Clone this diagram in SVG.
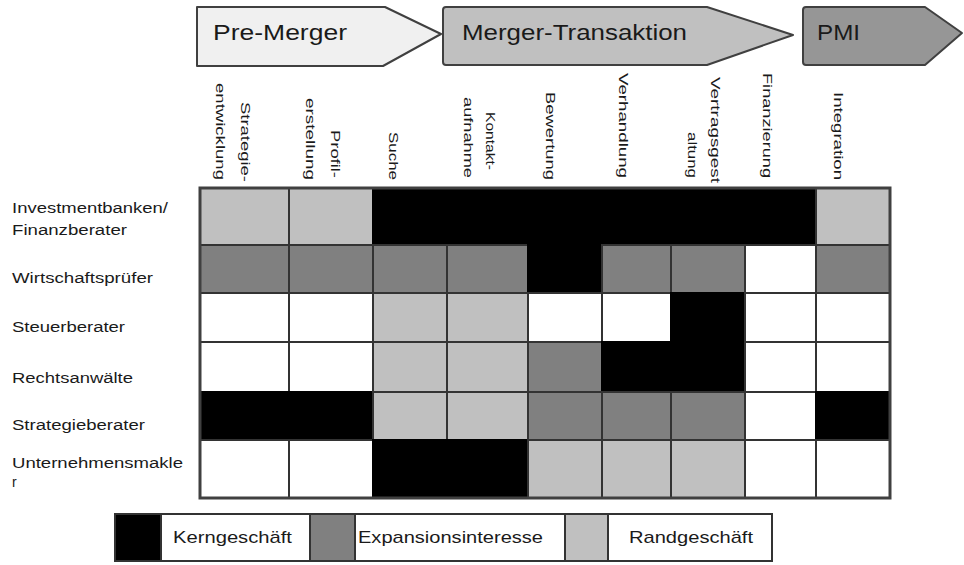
<svg xmlns="http://www.w3.org/2000/svg" width="964" height="565" viewBox="0 0 964 565">
<style>
  .hdr { stroke:#404040; stroke-width:2; stroke-linejoin:round; }
  .ht { font-family:"Liberation Sans", Arial, sans-serif; font-size:22px; fill:#1a1a1a; }
  .cl { font-family:"Liberation Sans", Arial, sans-serif; font-size:13px; fill:#1a1a1a; text-anchor:end; }
  .rl { font-family:"Liberation Sans", Arial, sans-serif; font-size:14px; fill:#1a1a1a; }
  .lt { font-family:"Liberation Sans", Arial, sans-serif; font-size:17px; fill:#1a1a1a; }
  .c { stroke:#333; stroke-width:2; }
  .L { fill:#c0c0c0; }
  .D { fill:#808080; }
  .B { fill:#000; stroke:#000; }
  .W { fill:#fff; }
</style>
<rect width="964" height="565" fill="#fff"/>

<!-- Phase arrows -->
<g id="phase-pre-merger">
  <path class="hdr" fill="#f0f0f0" d="M197,7 H385 L441,34 L383,66 H197 Z"/>
  <text class="ht" x="213" y="40" textLength="134" lengthAdjust="spacingAndGlyphs">Pre-Merger</text>
</g>
<g id="phase-merger-transaktion">
  <path class="hdr" fill="#c0c0c0" d="M446,7 H707 L793,35 L707,65 H446 Q443,65 443,62 V10 Q443,7 446,7 Z"/>
  <text class="ht" x="462" y="40" textLength="225" lengthAdjust="spacingAndGlyphs">Merger-Transaktion</text>
</g>
<g id="phase-pmi">
  <path class="hdr" fill="#969696" d="M806,7 H925 L962,33 L925,65 H806 Q803,65 803,62 V10 Q803,7 806,7 Z"/>
  <text class="ht" x="817" y="40" textLength="43" lengthAdjust="spacingAndGlyphs">PMI</text>
</g>

<!-- Column labels -->
<g id="column-labels">
  <text class="cl" transform="translate(241,182) rotate(90)" textLength="80" lengthAdjust="spacingAndGlyphs">Strategie-</text>
  <text class="cl" transform="translate(216,180) rotate(90)" textLength="97" lengthAdjust="spacingAndGlyphs">entwicklung</text>
  <text class="cl" transform="translate(331,178) rotate(90)" textLength="48" lengthAdjust="spacingAndGlyphs">Profil-</text>
  <text class="cl" transform="translate(306,180) rotate(90)" textLength="82" lengthAdjust="spacingAndGlyphs">erstellung</text>
  <text class="cl" transform="translate(389,180) rotate(90)" textLength="48" lengthAdjust="spacingAndGlyphs">Suche</text>
  <text class="cl" transform="translate(486,170) rotate(90)" textLength="58" lengthAdjust="spacingAndGlyphs">Kontakt-</text>
  <text class="cl" transform="translate(464,178) rotate(90)" textLength="81" lengthAdjust="spacingAndGlyphs">aufnahme</text>
  <text class="cl" transform="translate(546,180) rotate(90)" textLength="88" lengthAdjust="spacingAndGlyphs">Bewertung</text>
  <text class="cl" transform="translate(619,178) rotate(90)" textLength="105" lengthAdjust="spacingAndGlyphs">Verhandlung</text>
  <text class="cl" transform="translate(711,183) rotate(90)" textLength="106" lengthAdjust="spacingAndGlyphs">Vertragsgest</text>
  <text class="cl" transform="translate(688,178) rotate(90)" textLength="46" lengthAdjust="spacingAndGlyphs">altung</text>
  <text class="cl" transform="translate(763,178) rotate(90)" textLength="105" lengthAdjust="spacingAndGlyphs">Finanzierung</text>
  <text class="cl" transform="translate(834,180) rotate(90)" textLength="88" lengthAdjust="spacingAndGlyphs">Integration</text>
</g>

<!-- Row labels -->
<g id="row-investmentbanken">
  <text class="rl" x="12" y="213" textLength="156" lengthAdjust="spacingAndGlyphs">Investmentbanken/</text>
  <text class="rl" x="12" y="235" textLength="115" lengthAdjust="spacingAndGlyphs">Finanzberater</text>
</g>
<g id="row-wirtschaftspruefer">
  <text class="rl" x="12" y="283" textLength="141" lengthAdjust="spacingAndGlyphs">Wirtschaftsprüfer</text>
</g>
<g id="row-steuerberater">
  <text class="rl" x="12" y="332" textLength="113" lengthAdjust="spacingAndGlyphs">Steuerberater</text>
</g>
<g id="row-rechtsanwaelte">
  <text class="rl" x="12" y="383" textLength="121" lengthAdjust="spacingAndGlyphs">Rechtsanwälte</text>
</g>
<g id="row-strategieberater">
  <text class="rl" x="12" y="430" textLength="133" lengthAdjust="spacingAndGlyphs">Strategieberater</text>
</g>
<g id="row-unternehmensmakler">
  <text class="rl" x="12" y="468" textLength="171" lengthAdjust="spacingAndGlyphs">Unternehmensmakle</text>
  <text class="rl" x="12" y="487">r</text>
</g>

<!-- Matrix cells -->
<g id="matrix">
  <!-- row 1 -->
  <rect class="c L" x="200" y="188" width="89" height="57"/>
  <rect class="c L" x="289" y="188" width="84" height="57"/>
  <rect class="c B" x="373" y="188" width="443" height="57"/>
  <rect class="c L" x="816" y="188" width="74" height="57"/>
  <!-- row 2 -->
  <rect class="c D" x="200" y="245" width="89" height="48"/>
  <rect class="c D" x="289" y="245" width="84" height="48"/>
  <rect class="c D" x="373" y="245" width="74" height="48"/>
  <rect class="c D" x="447" y="245" width="81" height="48"/>
  <rect class="c B" x="528" y="245" width="74" height="48"/>
  <rect class="c D" x="602" y="245" width="69" height="48"/>
  <rect class="c D" x="671" y="245" width="74" height="48"/>
  <rect class="c W" x="745" y="245" width="71" height="48"/>
  <rect class="c D" x="816" y="245" width="74" height="48"/>
  <!-- row 3 -->
  <rect class="c W" x="200" y="293" width="89" height="49"/>
  <rect class="c W" x="289" y="293" width="84" height="49"/>
  <rect class="c L" x="373" y="293" width="74" height="49"/>
  <rect class="c L" x="447" y="293" width="81" height="49"/>
  <rect class="c W" x="528" y="293" width="74" height="49"/>
  <rect class="c W" x="602" y="293" width="69" height="49"/>
  <rect class="c B" x="671" y="293" width="74" height="99"/>
  <rect class="c W" x="745" y="293" width="71" height="49"/>
  <rect class="c W" x="816" y="293" width="74" height="49"/>
  <!-- row 4 -->
  <rect class="c W" x="200" y="342" width="89" height="50"/>
  <rect class="c W" x="289" y="342" width="84" height="50"/>
  <rect class="c L" x="373" y="342" width="74" height="50"/>
  <rect class="c L" x="447" y="342" width="81" height="50"/>
  <rect class="c D" x="528" y="342" width="74" height="50"/>
  <rect class="c B" x="602" y="342" width="143" height="50"/>
  <rect class="c W" x="745" y="342" width="71" height="50"/>
  <rect class="c W" x="816" y="342" width="74" height="50"/>
  <!-- row 5 -->
  <rect class="c B" x="200" y="392" width="173" height="48"/>
  <rect class="c L" x="373" y="392" width="74" height="48"/>
  <rect class="c L" x="447" y="392" width="81" height="48"/>
  <rect class="c D" x="528" y="392" width="74" height="48"/>
  <rect class="c D" x="602" y="392" width="69" height="48"/>
  <rect class="c D" x="671" y="392" width="74" height="48"/>
  <rect class="c W" x="745" y="392" width="71" height="48"/>
  <rect class="c B" x="816" y="392" width="74" height="48"/>
  <!-- row 6 -->
  <rect class="c W" x="200" y="440" width="89" height="58"/>
  <rect class="c W" x="289" y="440" width="84" height="58"/>
  <rect class="c B" x="373" y="440" width="155" height="58"/>
  <rect class="c L" x="528" y="440" width="74" height="58"/>
  <rect class="c L" x="602" y="440" width="69" height="58"/>
  <rect class="c L" x="671" y="440" width="74" height="58"/>
  <rect class="c W" x="745" y="440" width="71" height="58"/>
  <rect class="c W" x="816" y="440" width="74" height="58"/>
  <rect x="200" y="188" width="690" height="310" fill="none" stroke="#404040" stroke-width="3"/>
</g>

<!-- Legend -->
<g id="legend">
  <rect class="c B" x="115" y="514" width="46" height="47"/>
  <rect class="c W" x="161" y="514" width="149" height="47"/>
  <rect class="c D" x="310" y="514" width="45" height="47"/>
  <rect class="c W" x="355" y="514" width="210" height="47"/>
  <rect class="c L" x="565" y="514" width="43" height="47"/>
  <rect class="c W" x="608" y="514" width="164" height="47"/>
  <rect x="115" y="514" width="657" height="47" fill="none" stroke="#333" stroke-width="2"/>
  <text class="lt" x="173" y="543" textLength="119" lengthAdjust="spacingAndGlyphs">Kerngeschäft</text>
  <text class="lt" x="358" y="543" textLength="185" lengthAdjust="spacingAndGlyphs">Expansionsinteresse</text>
  <text class="lt" x="629" y="543" textLength="124" lengthAdjust="spacingAndGlyphs">Randgeschäft</text>
</g>
</svg>
